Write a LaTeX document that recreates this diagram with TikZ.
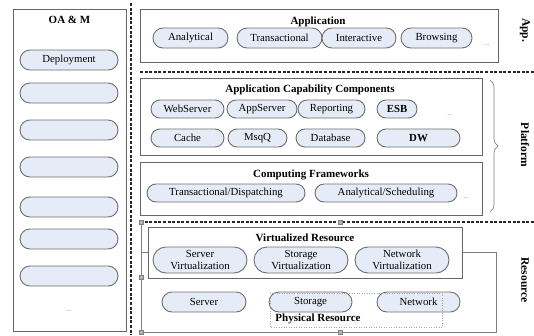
\documentclass[tikz,border=0pt]{standalone}
\usepackage{fontspec}
\setmainfont{Liberation Serif}
\usetikzlibrary{shapes.misc,decorations.pathreplacing}
\definecolor{pillfill}{HTML}{E6ECF7}
\definecolor{pillline}{HTML}{6E6E6E}
\definecolor{boxline}{HTML}{666666}

\begin{document}
\begin{tikzpicture}[x=1pt,y=-1pt,
  pill/.style={rounded rectangle, draw=pillline, fill=pillfill, line width=0.9pt,
    inner sep=0pt, minimum height=18pt, font=\fontsize{10.8}{11.5}\selectfont},
  layer/.style={draw=boxline, fill=white, line width=1pt, inner sep=0pt},
  title/.style={font=\fontsize{11}{12}\selectfont\bfseries},
  side/.style={font=\fontsize{11.5}{12}\selectfont\bfseries, rotate=-90},
  sep/.style={line width=1.6pt, dash pattern=on 3pt off 1.6pt, black!85},
  handle/.style={draw=gray, fill=gray!60, minimum size=4pt, inner sep=0pt},
  more/.style={font=\fontsize{7}{8}\selectfont, text=gray}]
\useasboundingbox (0,0) rectangle (534,335);

% OA & M
\node[layer, minimum width=113pt, minimum height=322pt] (oam) at (69.5,170) {};
\node[title] (oamt) at (69.5,20) {OA \& M};
\node[pill, minimum width=98pt, minimum height=20pt] (deploy) at (69,60) {Deployment};
\foreach \y [count=\i] in {93,130,167,207,239,276}
{
\node[pill, minimum width=98pt, minimum height=20pt] (oam\i) at (69,\y) {};
}
\node[more] (oamdots) at (69,311) {...};

% separators
\coordinate (vtop) at (131,3);
\coordinate (vbot) at (131,335);
\draw[sep] (vtop) -- (vbot);
\coordinate (s1a) at (140,72);
\coordinate (s1b) at (534,72);
\draw[sep] (s1a) -- (s1b);

% physical resource outline
\coordinate (p0) at (141,222);
\coordinate (p1) at (141,332);
\coordinate (p2) at (496,332);
\coordinate (p3) at (496,252);
\coordinate (p4) at (462,252);
\coordinate (p5) at (148,252);
\draw[gray, line width=0.7pt] (p0) -- (p1) -- (p2) -- (p3) -- (p4) (p5) -- (141,252);

\coordinate (s2a) at (140,222);
\coordinate (s2b) at (534,222);
\draw[sep] (s2a) -- (s2b);
\foreach \x/\y [count=\i] in {141/222,141/277,141/332,340/332,340/222}
{
\node[handle] (h\i) at (\x,\y) {};
}

% application
\node[layer, minimum width=358pt, minimum height=53pt] (app) at (319,35.5) {};
\node[title] (appt) at (318,22) {Application};
\node[pill, minimum width=75pt, minimum height=20pt] (analytical) at (190.5,38) {Analytical};
\node[pill, minimum width=85pt, minimum height=20pt] (transactional) at (279.5,38) {Transactional};
\node[pill, minimum width=74pt, minimum height=20pt] (interactive) at (359,38) {Interactive};
\node[pill, minimum width=71pt, minimum height=20pt] (browsing) at (436.5,38) {Browsing};
\node[more] (appdots) at (487,45) {...};

% platform
\node[layer, minimum width=342pt, minimum height=77pt] (acc) at (311,116.5) {};
\node[title] (acct) at (310,90) {Application Capability Components};
\node[pill, minimum width=73pt] (websrv) at (187.5,109) {WebServer};
\node[pill, minimum width=70pt] (appsrv) at (262,109) {AppServer};
\node[pill, minimum width=67pt] (report) at (331.5,109) {Reporting};
\node[pill, minimum width=40pt] (esb) at (397,109) {\textbf{ESB}};
\node[more] (accdots) at (450,115) {...};
\node[pill, minimum width=73pt] (cache) at (187.5,138) {Cache};
\node[pill, minimum width=59pt] (msq) at (257.5,138) {MsqQ};
\node[pill, minimum width=69pt] (db) at (330.5,138) {Database};
\node[pill, minimum width=83pt] (dw) at (418.5,138) {\textbf{DW}};

\node[layer, minimum width=342pt, minimum height=53pt] (cf) at (311,188.5) {};
\node[title] (cft) at (311,175) {Computing Frameworks};
\node[pill, minimum width=158pt] (tdisp) at (226,193) {Transactional/Dispatching};
\node[pill, minimum width=142pt] (asched) at (386,193) {Analytical/Scheduling};
\node[more] (cfdots) at (466,198) {...};

\coordinate (bra) at (490,80);
\coordinate (brb) at (490,212);
\draw[decorate, decoration={brace, amplitude=8pt}, gray, line width=0.7pt] (bra) -- (brb);

% resource
\node[layer, minimum width=314pt, minimum height=51pt] (virt) at (305,252.5) {};
\node[title] (virtt) at (305,238) {Virtualized Resource};
\node[pill, minimum width=94pt, minimum height=26pt, align=center] (svirt) at (200,260) {Server\\Virtualization};
\node[pill, minimum width=94pt, minimum height=26pt, align=center] (stvirt) at (301,260) {Storage\\Virtualization};
\node[pill, minimum width=94pt, minimum height=26pt, align=center] (nvirt) at (402,260) {Network\\Virtualization};

\node[pill, minimum width=84pt, minimum height=20pt] (server) at (204,302) {Server};
\node[pill, minimum width=83pt, minimum height=20pt] (storage) at (310.5,302) {Storage};
\node[pill, minimum width=83pt, minimum height=20pt] (network) at (418.5,302) {Network};
\coordinate (phya) at (270,293);
\coordinate (phyb) at (442,327);
\draw[gray!70, dotted, line width=0.5pt] (phya) rectangle (phyb);
\node[title] (phyt) at (318,319) {Physical Resource};

% layer labels
\node[side] (lapp) at (525,30) {App.};
\node[side] (lplat) at (525,145) {Platform};
\node[side] (lres) at (525,280) {Resource};
\end{tikzpicture}
\end{document}
